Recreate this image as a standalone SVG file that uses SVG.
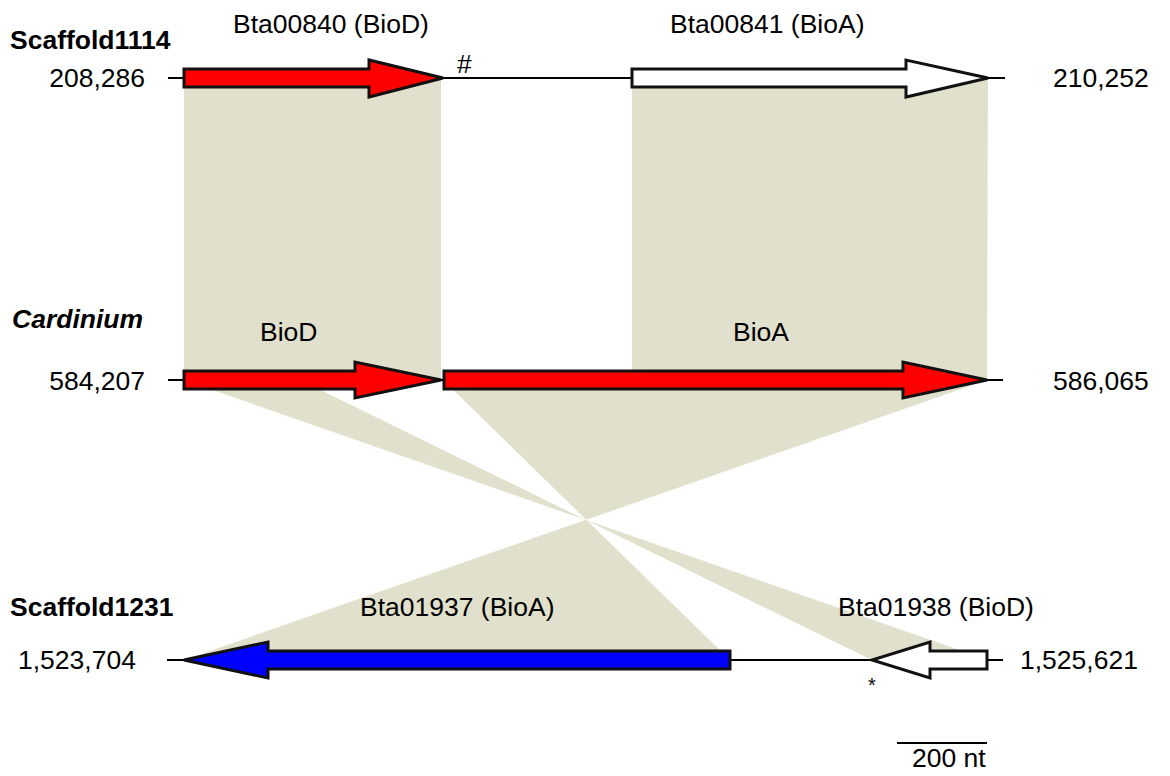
<svg xmlns="http://www.w3.org/2000/svg" width="1170" height="776" viewBox="0 0 1170 776">
<style>
.t{font-family:"Liberation Sans",Arial,sans-serif;font-size:26.5px;fill:#000}
.b{font-weight:bold}
.bi{font-weight:bold;font-style:italic}
.shade{fill:rgb(193,193,153);fill-opacity:0.5;stroke:none}
.axis{stroke:#000;stroke-width:2;fill:none}
.gene{stroke:#111;stroke-width:3;stroke-linejoin:miter}
.red{fill:#ff0000}
.white{fill:#ffffff}
.blue{fill:#0000ff}
</style>
<rect width="1170" height="776" fill="#fff"/>
<g id="connectors">
<polygon class="shade" points="184,78 441,78 441,380 184,380"/>
<polygon class="shade" points="632,78 988,78 987,380 632,380"/>
<polygon class="shade" points="443,380 987,380 184,660 730,660"/>
<polygon class="shade" points="184,380 300,380 872,660 988,660"/>
</g>
<g id="axes">
<line class="axis" x1="168" y1="78" x2="1005" y2="78"/>
<line class="axis" x1="168" y1="380" x2="1003" y2="380"/>
<line class="axis" x1="167" y1="660" x2="1003" y2="660"/>
</g>
<g id="Bta00840">
<polygon class="gene red" points="184,69 369,69 369,60 443,78 369,97 369,87 184,87"/>
<text class="t" x="233" y="33">Bta00840 (BioD)</text>
<text class="t" x="457" y="73">#</text>
</g>
<g id="Bta00841">
<polygon class="gene white" points="632,69 906,69 906,60 988,78 906,97 906,87 632,87"/>
<text class="t" x="670" y="33">Bta00841 (BioA)</text>
</g>
<g id="CardBioD">
<polygon class="gene red" points="184,371 355,371 355,362 441,380 355,398 355,389 184,389"/>
<text class="t" x="260" y="341">BioD</text>
</g>
<g id="CardBioA">
<polygon class="gene red" points="444,371 903,371 903,362 987,380 903,398 903,389 444,389"/>
<text class="t" x="733" y="341">BioA</text>
</g>
<g id="Bta01937">
<polygon class="gene blue" points="730,651 268,651 268,642 184,660 268,678 268,669 730,669"/>
<text class="t" x="360" y="616">Bta01937 (BioA)</text>
</g>
<g id="Bta01938">
<polygon class="gene white" points="987,651 930,651 930,642 872,660 930,678 930,669 987,669"/>
<text class="t" x="838" y="616">Bta01938 (BioD)</text>
<text class="t" x="868" y="692" style="font-size:20px">*</text>
</g>
<g id="labels">
<text class="t b" x="10" y="49">Scaffold1114</text>
<text class="t" x="145" y="87" text-anchor="end">208,286</text>
<text class="t" x="1053" y="87">210,252</text>
<text class="t bi" x="12" y="328">Cardinium</text>
<text class="t" x="145" y="390" text-anchor="end">584,207</text>
<text class="t" x="1053" y="390">586,065</text>
<text class="t b" x="10" y="616">Scaffold1231</text>
<text class="t" x="18" y="669">1,523,704</text>
<text class="t" x="1020" y="669">1,525,621</text>
</g>
<g id="scalebar">
<line class="axis" x1="897" y1="743" x2="987" y2="743"/>
<text class="t" x="912" y="767">200 nt</text>
</g>
</svg>
